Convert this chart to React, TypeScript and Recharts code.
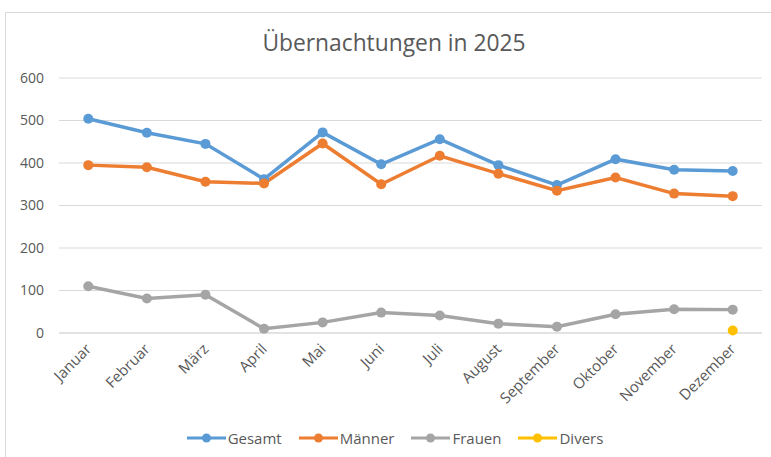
import React from "react";
import {
  LineChart,
  Line,
  XAxis,
  YAxis,
  CartesianGrid,
  Legend,
} from "recharts";

const months = [
  "Januar",
  "Februar",
  "März",
  "April",
  "Mai",
  "Juni",
  "Juli",
  "August",
  "September",
  "Oktober",
  "November",
  "Dezember",
];

const gesamt = [504, 471, 445, 362, 472, 397, 456, 395, 348, 409, 384, 381];
const maenner = [395, 390, 356, 352, 446, 350, 417, 375, 335, 366, 328, 322];
const frauen = [110, 81, 90, 10, 25, 48, 41, 22, 15, 44, 56, 55];
const divers = [null, null, null, null, null, null, null, null, null, null, null, 6];

const yTicks = [0, 100, 200, 300, 400, 500, 600];

const series = [
  { key: "Gesamt", color: "#5B9BD5" },
  { key: "Männer", color: "#ED7D31" },
  { key: "Frauen", color: "#A5A5A5" },
  { key: "Divers", color: "#FFC000" },
];

const data = months.map((m, i) => ({
  month: m,
  Gesamt: gesamt[i],
  Männer: maenner[i],
  Frauen: frauen[i],
  Divers: divers[i],
}));

const FONT = "'Open Sans', 'Noto Sans', sans-serif";
const TEXT = "#595959";

const MonthTick = (props: any) => {
  const { x, y, payload } = props;
  const ax = x + 4;
  const ay = y + 9;
  return (
    <text
      x={ax}
      y={ay}
      transform={`rotate(-45, ${ax}, ${ay})`}
      textAnchor="end"
      fill={TEXT}
      fontSize={15}
      fontFamily={FONT}
    >
      {payload.value}
    </text>
  );
};

export default function App() {
  return (
    <div
      style={{
        position: "absolute",
        left: 0,
        top: 0,
        width: 771,
        height: 457,
        overflow: "hidden",
        background: "#fff",
        fontFamily: FONT,
      }}
    >
      {/* chart frame */}
      <div
        style={{
          position: "absolute",
          left: 5,
          top: 12,
          width: 800,
          height: 500,
          border: "1px solid #d9d9d9",
        }}
      />
      <div
        style={{
          position: "absolute",
          top: 27,
          left: 0,
          width: 788,
          textAlign: "center",
          fontSize: 22.8,
          color: TEXT,
        }}
      >
        Übernachtungen in 2025
      </div>
      <div style={{ position: "absolute", left: 0, top: 0 }}>
        <LineChart
          width={771}
          height={457}
          data={data}
          margin={{ top: 78, right: 9, left: 0, bottom: 0 }}
        >
          <CartesianGrid vertical={false} stroke="#d9d9d9" strokeWidth={1} />
          <XAxis
            dataKey="month"
            scale="band"
            axisLine={{ stroke: "#d9d9d9" }}
            tickLine={false}
            interval={0}
            tick={<MonthTick />}
            height={88}
          />
          <YAxis
            domain={[0, 600]}
            ticks={yTicks}
            width={59}
            axisLine={false}
            tickLine={false}
            tick={{ fill: TEXT, fontSize: 14, fontFamily: FONT, dx: -7 }}
          />
          <Legend
            verticalAlign="bottom"
            height={36}
            content={() => (
              <div
                style={{
                  display: "flex",
                  justifyContent: "center",
                  gap: 17,
                  paddingTop: 7,
                  paddingLeft: 28,
                  fontSize: 15,
                  color: TEXT,
                  fontFamily: FONT,
                }}
              >
                {series.map((s) => (
                  <span key={s.key} style={{ display: "flex", alignItems: "center" }}>
                    <svg width={39} height={12} style={{ marginRight: 2 }}>
                      <line x1={0} y1={6} x2={39} y2={6} stroke={s.color} strokeWidth={3} />
                      <circle cx={19.5} cy={6} r={4.5} fill={s.color} />
                    </svg>
                    <span>{s.key}</span>
                  </span>
                ))}
              </div>
            )}
          />
          {series.map((s) => (
            <Line
              key={s.key}
              dataKey={s.key}
              stroke={s.color}
              strokeWidth={3.5}
              dot={{ r: 5, fill: s.color, stroke: s.color, strokeWidth: 0 }}
              activeDot={false}
              isAnimationActive={false}
              type="linear"
            />
          ))}
        </LineChart>
      </div>
    </div>
  );
}
